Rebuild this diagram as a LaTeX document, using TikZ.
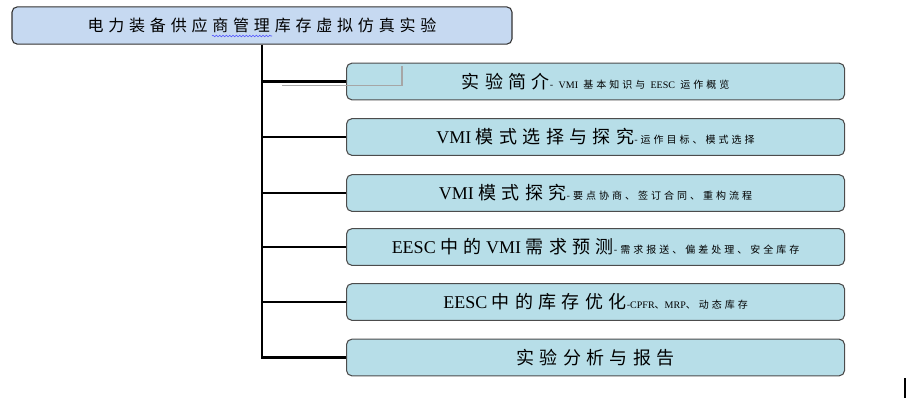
\documentclass[tikz,border=0pt]{standalone}
\usepackage{fontspec}
\setmainfont{Liberation Serif}
\newfontfamily\cjk[LetterSpace=30]{Noto Sans CJK SC}
\usetikzlibrary{decorations.pathmorphing}
\definecolor{titlefill}{HTML}{C6D9F1}
\definecolor{itemfill}{HTML}{B7DEE8}
\newcommand\itemhead[1]{{\fontsize{13.5}{15}\selectfont #1}}
\newcommand\itemnote[1]{{\fontsize{7.5}{9}\selectfont\cjk #1}}

\begin{document}
\begin{tikzpicture}[x=0.75pt,y=-0.75pt,
	titlebox/.style={draw=black!80,fill=titlefill,rounded corners=4pt,line width=0.8pt,
		minimum width=375pt,minimum height=28pt,inner sep=0pt},
	itembox/.style={draw=black!70,fill=itemfill,rounded corners=4pt,line width=0.8pt,
		minimum width=373.5pt,minimum height=27.5pt,inner sep=0pt,anchor=west},
	branch/.style={line width=2.2pt}]

\useasboundingbox (0,0) rectangle (907,401);

\node [titlebox] (title) at (262,25.5)
	{\fontsize{12}{14}\selectfont\cjk 电力装备供应商管理库存虚拟仿真实验};

\node [itembox] (i1) at (346,81.5) {\itemhead{\cjk 实验简介}\itemnote{- {\rmfamily VMI} 基本知识与 {\rmfamily EESC} 运作概览}};
\node [itembox] (i2) at (346,137) {\itemhead{VMI {\cjk 模式选择与探究}}\itemnote{-运作目标、模式选择}};
\node [itembox] (i3) at (346,193) {\itemhead{VMI {\cjk 模式探究}}\itemnote{-要点协商、签订合同、重构流程}};
\node [itembox] (i4) at (346,247) {\itemhead{EESC {\cjk 中的} VMI {\cjk 需求预测}}\itemnote{-需求报送、偏差处理、安全库存}};
\node [itembox] (i5) at (346,302) {\itemhead{EESC {\cjk 中的库存优化}}\itemnote{-{\rmfamily CPFR}、{\rmfamily MRP}、动态库存}};
\node [itembox] (i6) at (346,357.5) {\itemhead{\cjk 实验分析与报告}};

% spine and branches
\draw [branch] (title.south) -- (title.south |- i6.west) -- (i6.west);
\foreach \i in {1,...,5} {
	\draw [branch] (title.south |- i\i.west) -- (i\i.west);
}

% stray marks
\draw [gray!70,line width=1.2pt] (282,85.5) -- (402,85.5) -- (402,66);
\draw [blue!70,line width=0.4pt,decorate,decoration={snake,amplitude=0.6pt,segment length=2.5pt}]
	(212,36) -- (272,36);
\draw [line width=0.8pt] (905,378) -- (905,398);

\end{tikzpicture}
\end{document}
